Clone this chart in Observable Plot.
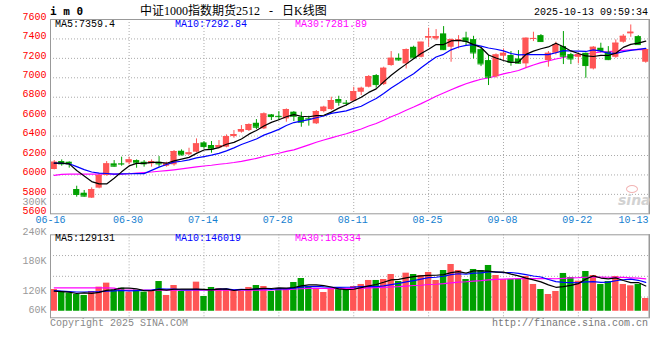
<!DOCTYPE html>
<html><head><meta charset="utf-8">
<script src="https://cdn.jsdelivr.net/npm/d3@7"></script>
<script src="https://cdn.jsdelivr.net/npm/@observablehq/plot@0.6"></script>
<style>
body{margin:0;background:#fff;}
#wrap{position:relative;width:660px;height:360px;overflow:hidden;font-family:"Liberation Mono",monospace;font-size:10px;}
.t{position:absolute;white-space:pre;line-height:10px;}
#wrap svg{position:absolute;left:0;}
</style></head><body><div id="wrap"></div>
<script>
// ---------- data ----------
const dates = ["06-16","06-17","06-18","06-19","06-20","06-23","06-24","06-25","06-26","06-27","06-30",
"07-01","07-02","07-03","07-04","07-07","07-08","07-09","07-10","07-11","07-14","07-15","07-16","07-17","07-18","07-21","07-22","07-23","07-24","07-25","07-28","07-29","07-30","07-31",
"08-01","08-04","08-05","08-06","08-07","08-08","08-11","08-12","08-13","08-14","08-15","08-18","08-19","08-20","08-21","08-22","08-25","08-26","08-27","08-28","08-29",
"09-01","09-02","09-03","09-04","09-05","09-08","09-09","09-10","09-11","09-12","09-15","09-16","09-17","09-18","09-19","09-22","09-23","09-24","09-25","09-26","09-29","09-30",
"10-09","10-10","10-13"];
const opens  = [6056,6138,6131,5850,5812,5761,5864,5994,6114,6116,6124,6148,6131,6114,6131,6090,6104,6244,6207,6234,6330,6303,6275,6286,6395,6440,6457,6532,6474,6618,6603,6577,6646,6594,6579,6526,6652,6673,6776,6740,6759,6851,6903,7023,6930,7126,7201,7143,7314,7211,7407,7400,7452,7314,7373,7410,7393,7290,7177,7010,7222,7229,7194,7143,7395,7434,7177,7252,7321,7239,7211,7252,7091,7304,7263,7211,7366,7452,7424,7160];
const highs  = [6148,6155,6135,5884,5840,5867,6011,6138,6148,6183,6183,6155,6148,6155,6189,6131,6251,6258,6275,6371,6344,6344,6354,6412,6457,6508,6526,6570,6639,6622,6652,6680,6652,6646,6604,6663,6707,6800,6810,6766,6903,6903,7023,7033,7109,7270,7246,7297,7325,7366,7510,7496,7527,7400,7434,7469,7427,7304,7229,7246,7297,7270,7280,7410,7469,7445,7270,7366,7476,7252,7252,7255,7321,7356,7321,7390,7445,7544,7434,7297];
const lows   = [6052,6090,6070,5771,5771,5758,5857,5987,6080,6090,6104,6069,6080,6080,6080,6080,6090,6196,6200,6227,6268,6224,6268,6279,6378,6430,6447,6467,6467,6560,6560,6543,6550,6491,6502,6519,6639,6663,6707,6707,6755,6817,6896,6892,6920,7119,7170,7091,7194,7205,7314,7383,7280,7160,7297,7331,7194,7115,6920,6995,7177,7119,7143,7098,7373,7366,7109,7235,7136,7136,7143,6995,7081,7256,7177,7201,7356,7417,7338,7150];
const closes = [6131,6114,6114,5799,5782,5850,5994,6114,6090,6112,6155,6124,6114,6138,6114,6114,6241,6207,6227,6320,6292,6268,6303,6395,6416,6467,6519,6491,6628,6601,6600,6673,6604,6543,6576,6652,6697,6766,6749,6737,6858,6892,7013,6930,7098,7201,7184,7290,7205,7366,7424,7424,7290,7393,7390,7376,7256,7143,7006,7235,7252,7160,7150,7407,7405,7373,7252,7342,7222,7194,7239,7126,7314,7280,7187,7356,7427,7469,7342,7290];
const volumes = [129100,123700,121700,119000,117000,125100,133900,142000,127100,131800,123700,128400,123700,125100,145300,117000,137200,125100,125100,144000,115000,133200,131100,129100,127100,125100,133200,137200,135200,125100,131100,131100,143300,151400,135200,131100,123000,130500,132500,127100,135200,139300,147400,147400,149400,159500,145300,162200,159500,157500,163600,147400,167600,179800,167600,149400,169700,167600,177800,157500,149400,149400,149400,155500,139300,129100,119000,125100,161600,153400,146000,165600,157500,139300,145300,155500,139300,136600,139300,110900];
// moving-average values for days whose window starts before 06-16
const ma5Head  = [6121,6122,6114,6045];
const ma10Head = [6122,6120,6115,6085,6055,6030,6018,6015,6008];
const ma30Head = [5996,6005,6008,6008,6008,6008,6008,6008,6008,6008,6012,6018,6025,6030,6038,6045,6053,6062,6072,6083,6092,6100,6110,6118,6128,6140,6155,6170,6190];
const volMa5Head  = [125700,125000,123700,121000];
const volMa10Head = [127000,126000,125000,124000,124000,124500,125000,126000,126500];
const volMa30Head = [132500,132500,132500,132500,132500,132500,132500,132500,132000,128000,128000,128000,128000,128000,128000,128000,128000,128000,128000,128000,128000,128000,128000,128000,128000,128000,128000,128000,128000];
const priceTicks = [7600,7400,7200,7000,6800,6600,6400,6200,6000,5800,5600];
const xTicks = ["06-16","06-30","07-14","07-28","08-11","08-25","09-08","09-22","10-13"];
const volTicks = [300000,240000,180000,120000];
const volBottomTick = [60000];
const volDomain = [71740,240000];
const volBase = 85000;
const title = "中证1000指数期货2512 - 日K线图";
const code = "i m 0";
const stamp = "2025-10-13 09:59:34";
const priceLegend = ["MA5:7359.4","MA10:7292.84","MA30:7281.89"];
const volLegend = ["MA5:129131","MA10:146019","MA30:165334"];

// ---------- derived ----------
function movingAvg(arr,k,head){return arr.map((_,i)=> i<k-1 ? head[i] : d3.mean(arr.slice(i-k+1,i+1)));}
const ma5=movingAvg(closes,5,ma5Head), ma10=movingAvg(closes,10,ma10Head), ma30=movingAvg(closes,30,ma30Head);
const vma5=movingAvg(volumes,5,volMa5Head), vma10=movingAvg(volumes,10,volMa10Head), vma30=movingAvg(volumes,30,volMa30Head);
const rows = dates.map((d,i)=>({date:d,open:opens[i],high:highs[i],low:lows[i],close:closes[i],vol:volumes[i],
  ma5:ma5[i],ma10:ma10[i],ma30:ma30[i],vma5:vma5[i],vma10:vma10[i],vma30:vma30[i]}));
const up = rows.filter(r=>r.close>=r.open), down = rows.filter(r=>r.close<r.open);

const RED="#ff5555", GREEN="#00a000", GRID="#aaaaaa", FRAME="#999999", BLUE="#1580d0";
const MONO="Liberation Mono";
const ins={insetLeft:0.65,insetRight:0.65};

const mainPlot = Plot.plot({
  width:660,height:232,marginLeft:50,marginRight:11,marginTop:19,marginBottom:18.7,
  style:{background:"transparent",overflow:"visible"},
  x:{type:"band",domain:dates,padding:0,axis:null},
  y:{type:"linear",domain:[5600,7600],axis:null},
  marks:[
    Plot.ruleY(priceTicks.slice(1,-1),{stroke:GRID,strokeDasharray:"1,2"}),
    Plot.ruleX(xTicks.slice(1,-1),{stroke:GRID,strokeDasharray:"1,2"}),
    Plot.line(rows,{x:"date",y:"ma30",stroke:"#ff00ff",strokeWidth:1.2}),
    Plot.ruleX(up,{x:"date",y1:"low",y2:"high",stroke:RED}),
    Plot.ruleX(down,{x:"date",y1:"low",y2:"high",stroke:GREEN}),
    Plot.barY(up,{x:"date",y1:"open",y2:"close",fill:RED,...ins}),
    Plot.barY(down,{x:"date",y1:"open",y2:"close",fill:GREEN,...ins}),
    Plot.tickY(up,{x:"date",y:"close",stroke:RED,...ins}),
    Plot.tickY(down,{x:"date",y:"close",stroke:GREEN,...ins}),
    Plot.line(rows,{x:"date",y:"ma10",stroke:"#0000ff",strokeWidth:1.2}),
    Plot.line(rows,{x:"date",y:"ma5",stroke:"#000000",strokeWidth:1.2}),
    Plot.frame({stroke:FRAME}),
    Plot.ruleX(xTicks.slice(-1),{x:d=>d,dx:3.5,stroke:FRAME,strokeWidth:1.5}),
    Plot.text(priceTicks,{frameAnchor:"left",y:d=>d,text:d=>String(d),textAnchor:"end",dx:-4,dy:-3,fill:"#ff0000",fontFamily:MONO,fontSize:10}),
    Plot.text(xTicks.slice(1,-1),{x:d=>d,text:d=>d,frameAnchor:"bottom",dx:-1,dy:9.5,fill:BLUE,fontFamily:MONO,fontSize:10}),
    Plot.text(xTicks.slice(0,1),{text:d=>d,frameAnchor:"bottom-left",textAnchor:"middle",dy:9.5,fill:BLUE,fontFamily:MONO,fontSize:10}),
    Plot.text(xTicks.slice(-1),{text:d=>d,frameAnchor:"bottom-right",textAnchor:"end",dx:-1,dy:9.5,fill:BLUE,fontFamily:MONO,fontSize:10})
  ]
});

const volGrid=[1,2,3].map(k=>volDomain[0]+(volDomain[1]-volDomain[0])*k/4);
const volPlot = Plot.plot({
  width:660,height:100,marginLeft:50,marginRight:11,marginTop:8.3,marginBottom:8.7,
  style:{background:"transparent",overflow:"visible"},
  x:{type:"band",domain:dates,padding:0,axis:null},
  y:{type:"linear",domain:volDomain,axis:null},
  marks:[
    Plot.ruleY(volGrid,{stroke:GRID,strokeDasharray:"1,2"}),
    Plot.ruleX(xTicks.slice(1,-1),{stroke:GRID,strokeDasharray:"1,2"}),
    Plot.barY(up,{x:"date",y1:volBase,y2:"vol",fill:RED,insetLeft:0.55,insetRight:0.55}),
    Plot.barY(down,{x:"date",y1:volBase,y2:"vol",fill:GREEN,insetLeft:0.55,insetRight:0.55}),
    Plot.line(rows,{x:"date",y:"vma30",stroke:"#ff00ff",strokeWidth:1.2}),
    Plot.line(rows,{x:"date",y:"vma10",stroke:"#0000ff",strokeWidth:1.2}),
    Plot.line(rows,{x:"date",y:"vma5",stroke:"#000000",strokeWidth:1.2}),
    Plot.frame({stroke:FRAME}),
    Plot.ruleX(xTicks.slice(-1),{x:d=>d,dx:3.5,stroke:FRAME,strokeWidth:1.5}),
    Plot.text(volTicks,{frameAnchor:"left",y:d=>d,text:d=>d/1000+"K",textAnchor:"end",dx:-4,dy:-3.5,fill:"#999999",fontFamily:MONO,fontSize:10}),
    Plot.text(volBottomTick,{frameAnchor:"left",y:d=>Math.max(d,volBase),text:d=>d/1000+"K",textAnchor:"end",dx:-4,dy:-1,fill:"#999999",fontFamily:MONO,fontSize:10})
  ]
});

const wrap=document.getElementById("wrap");
mainPlot.style.top="0px";
volPlot.style.top="226px";
wrap.appendChild(mainPlot);
wrap.appendChild(volPlot);

function addText(txt,css){const d=document.createElement("div");d.className="t";d.textContent=txt;Object.assign(d.style,css);wrap.appendChild(d);return d;}
addText(code,{left:"50px",top:"5.5px",fontFamily:"DejaVu Sans Mono",fontWeight:"bold",fontSize:"11px",lineHeight:"11px",color:"#000"});
addText(title,{left:"140px",top:"5px",fontFamily:"'Liberation Serif','Noto Sans CJK SC'",fontSize:"12px",lineHeight:"12px",wordSpacing:"6px",color:"#000"});
addText(stamp,{right:"12px",top:"8px",color:"#000"});
const legColors=["#000000","#0000ff","#ff00ff"], legX=[55,175,295];
priceLegend.forEach((s,i)=>addText(s,{left:legX[i]+"px",top:"20px",color:legColors[i]}));
volLegend.forEach((s,i)=>addText(s,{left:legX[i]+"px",top:"233.5px",color:legColors[i]}));
addText("Copyright 2025 SINA.COM",{left:"50px",top:"319px",color:"#888"});
addText("http://finance.sina.com.cn",{right:"12px",top:"319px",color:"#777"});
// watermark
const eye=document.createElement("div");
Object.assign(eye.style,{position:"absolute",left:"626px",top:"185px",width:"10px",height:"6px",border:"1.5px solid #f2b4b4",borderRadius:"50%"});
wrap.appendChild(eye);
addText("sina",{left:"618px",top:"193px",fontFamily:"DejaVu Sans",fontStyle:"italic",fontWeight:"bold",fontSize:"14px",lineHeight:"14px",color:"#d2d2d2"});
</script>
</body></html>
